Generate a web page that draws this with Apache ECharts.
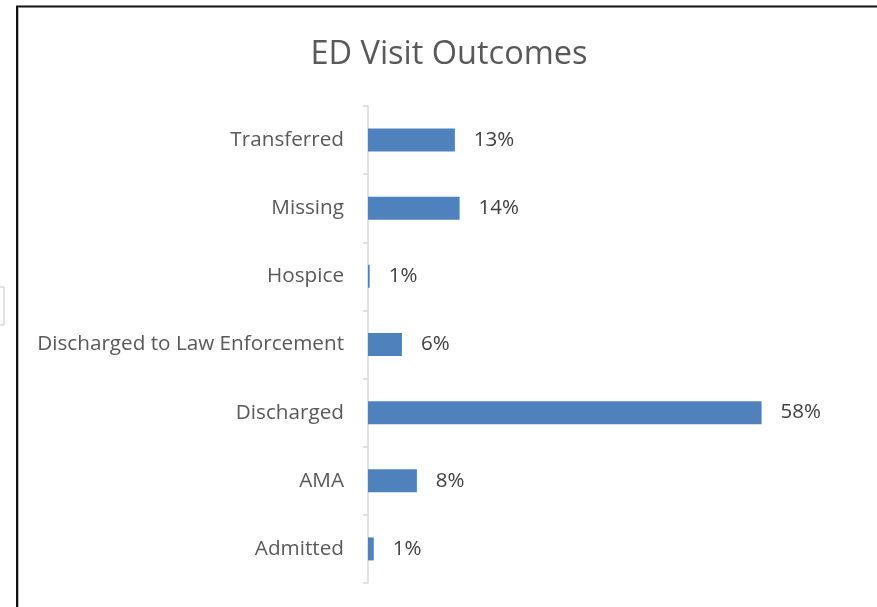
<!DOCTYPE html>
<html>
<head>
<meta charset="utf-8">
<script src="https://cdn.jsdelivr.net/npm/echarts@6/dist/echarts.min.js"></script>
<style>
html, body { margin: 0; padding: 0; background: #fff; }
#main { width: 877px; height: 607px; }
</style>
</head>
<body>
<div id="main"></div>
<script>
// categories bottom -> top (category axis starts at the bottom)
const outcomes = ['Admitted', 'AMA', 'Discharged', 'Discharged to Law Enforcement', 'Hospice', 'Missing', 'Transferred']
// bar lengths (percent)
const shares = [0.85, 7.2, 58, 5.0, 0.25, 13.5, 12.8]
// data labels as printed on the chart
const shareLabels = ['1%', '8%', '58%', '6%', '1%', '14%', '13%']

const chart = echarts.init(document.getElementById('main'))
chart.setOption({
  animation: false,
  textStyle: { fontFamily: 'Open Sans' },
  title: {
    text: 'ED Visit Outcomes',
    left: 444,
    top: 33,
    textAlign: 'center',
    textStyle: { fontSize: 32.5, fontWeight: 'normal', color: '#595959', fontFamily: 'Open Sans' }
  },
  grid: { left: 368, right: 34, top: 106, bottom: 24 },
  xAxis: {
    type: 'value',
    min: 0,
    max: 70,
    show: false
  },
  yAxis: {
    type: 'category',
    data: outcomes,
    axisLine: { lineStyle: { color: '#d9d9d9', width: 1.5 } },
    axisTick: { show: true, length: 5, lineStyle: { color: '#d9d9d9', width: 1.5 } },
    axisLabel: { fontSize: 20.7, color: '#595959', margin: 24, padding: [3, 0, 0, 0] }
  },
  series: [{
    type: 'bar',
    data: shares,
    barWidth: 23,
    itemStyle: { color: '#4f81bd' },
    label: {
      show: true,
      position: 'right',
      distance: 19,
      fontSize: 20.5,
      color: '#404040',
      padding: [3, 0, 0, 0],
      formatter: p => shareLabels[p.dataIndex]
    }
  }],
  graphic: [
    // frame lines around the chart area
    { type: 'line', shape: { x1: 16, y1: 6.5, x2: 877, y2: 6.5 }, style: { stroke: '#111', lineWidth: 2 } },
    { type: 'line', shape: { x1: 17, y1: 6, x2: 17, y2: 607 }, style: { stroke: '#111', lineWidth: 2 } },
    { type: 'line', shape: { x1: 18.5, y1: 8, x2: 18.5, y2: 607 }, style: { stroke: '#bbb', lineWidth: 1 } },
    { type: 'rect', shape: { x: -2, y: 287, width: 6, height: 38 }, style: { fill: '#fff', stroke: '#c8c8c8', lineWidth: 1 } }
  ]
})
</script>
</body>
</html>
